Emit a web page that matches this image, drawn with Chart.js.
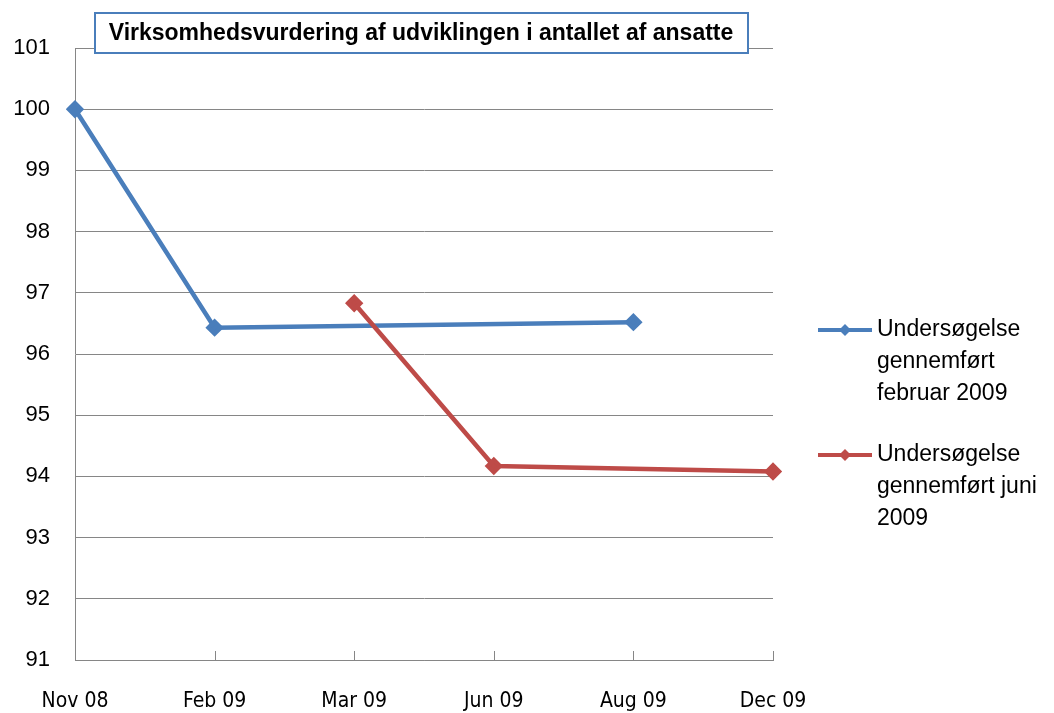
<!DOCTYPE html>
<html>
<head>
<meta charset="utf-8">
<script src="https://cdn.jsdelivr.net/npm/chart.js@4"></script>
<style>
  body { margin: 0; background: #fff; }
</style>
</head>
<body>
<canvas id="empChart" width="1054" height="713"></canvas>
<script>
const categories = ['Nov 08', 'Feb 09', 'Mar 09', 'Jun 09', 'Aug 09', 'Dec 09'];
const febSurvey = [100, 96.43, null, null, 96.52, null];
const junSurvey = [null, null, 96.83, 94.17, null, 94.08];
const febLabel = ['Undersøgelse', 'gennemført', 'februar 2009'];
const junLabel = ['Undersøgelse', 'gennemført juni', '2009'];
const titleText = 'Virksomhedsvurdering af udviklingen i antallet af ansatte';

const blue = '#4A7EBB';
const red = '#BE4B48';

// title box, legend and inward x ticks drawn on top
const extras = {
  id: 'extras',
  afterDraw(chart) {
    const c = chart.ctx;
    const x = chart.scales.x;
    const area = chart.chartArea;
    c.save();
    // x tick marks pointing up into plot
    c.strokeStyle = '#868686';
    c.lineWidth = 1;
    x.ticks.forEach((t, i) => {
      const px = Math.round(x.getPixelForTick(i)) + 0.5;
      c.beginPath();
      c.moveTo(px, area.bottom);
      c.lineTo(px, area.bottom - 9);
      c.stroke();
    });
    // title box
    c.fillStyle = '#fff';
    c.fillRect(95, 13, 653, 40);
    c.strokeStyle = blue;
    c.lineWidth = 2;
    c.strokeRect(95, 13, 653, 40);
    c.fillStyle = '#000';
    c.font = 'bold 23px "Liberation Sans"';
    c.textAlign = 'center';
    c.textBaseline = 'middle';
    c.fillText(titleText, 421, 34, 642);
    // legend
    c.textAlign = 'left';
    c.font = '23px "Liberation Sans"';
    chart.data.datasets.forEach((ds, k) => {
      const y0 = k === 0 ? 330 : 455;
      c.strokeStyle = ds.borderColor;
      c.lineWidth = 4;
      c.beginPath();
      c.moveTo(818, y0);
      c.lineTo(872, y0);
      c.stroke();
      c.fillStyle = ds.borderColor;
      c.beginPath();
      c.moveTo(845, y0 - 6);
      c.lineTo(851, y0);
      c.lineTo(845, y0 + 6);
      c.lineTo(839, y0);
      c.closePath();
      c.fill();
      c.fillStyle = '#000';
      ds.label.forEach((line, j) => c.fillText(line, 877, y0 + j * 32, 1050 - 877));
    });
    c.restore();
  }
};

new Chart(document.getElementById('empChart'), {
  type: 'line',
  data: {
    labels: categories,
    datasets: [
      {
        label: febLabel,
        data: febSurvey,
        borderColor: blue,
        backgroundColor: blue,
        borderWidth: 4.5,
        pointStyle: 'rectRot',
        pointRadius: 6,
        spanGaps: true,
        tension: 0,
        order: 1
      },
      {
        label: junLabel,
        data: junSurvey,
        borderColor: red,
        backgroundColor: red,
        borderWidth: 4.5,
        pointStyle: 'rectRot',
        pointRadius: 6,
        spanGaps: true,
        tension: 0,
        order: 0
      }
    ]
  },
  options: {
    responsive: false,
    animation: false,
    layout: { padding: { top: 48, right: 281, left: 0, bottom: 0 } },
    plugins: {
      legend: { display: false },
      tooltip: { enabled: false }
    },
    scales: {
      x: {
        offset: false,
        grid: { display: false, drawTicks: false },
        border: { color: '#868686', width: 1 },
        ticks: {
          color: '#000',
          padding: 29,
          maxRotation: 0,
          font: { family: '"DejaVu Sans Condensed", "Liberation Sans"', size: 21 }
        },
        afterFit(scale) { scale.height = 53; }
      },
      y: {
        min: 91,
        max: 101,
        grid: { color: '#868686', drawTicks: false },
        border: { color: '#868686', width: 1 },
        ticks: {
          stepSize: 1,
          color: '#000',
          padding: 25,
          font: { family: '"Liberation Sans"', size: 22 }
        },
        afterFit(scale) { scale.width = 75; }
      }
    }
  },
  plugins: [extras]
});
</script>
</body>
</html>
